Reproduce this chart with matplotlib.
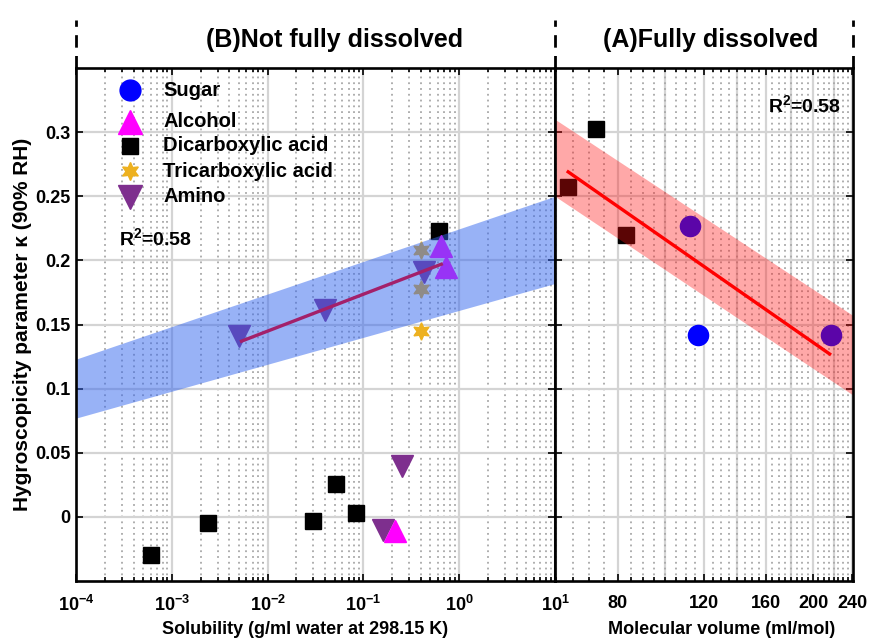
import numpy as np
import matplotlib
matplotlib.use("Agg")
import matplotlib.pyplot as plt
from matplotlib.lines import Line2D
from matplotlib.ticker import FixedLocator, NullFormatter

plt.rcParams['font.family'] = ['Liberation Sans', 'DejaVu Sans']
plt.rcParams['font.weight'] = 'bold'
plt.rcParams['mathtext.fontset'] = 'custom'
plt.rcParams['mathtext.rm'] = 'Liberation Sans'
plt.rcParams['mathtext.bf'] = 'Liberation Sans:bold'
plt.rcParams['mathtext.default'] = 'bf'

# ---------------- data ----------------
# Left panel (B) : solubility (g/ml) vs kappa
dicarb_sol = [6.0e-4, 2.36e-3, 0.0296, 0.0515, 0.083, 0.62]
dicarb_kB = [-0.030, -0.005, -0.003, 0.026, 0.003, 0.223]
tricarb_sol = [0.40, 0.40, 0.40]
tricarb_kB = [0.208, 0.178, 0.145]
alcohol_sol = [0.65, 0.73, 0.216]
alcohol_kB = [0.211, 0.195, -0.011]
amino_sol = [0.0050, 0.040, 0.43, 0.16, 0.25]
amino_kB = [0.141, 0.161, 0.191, -0.010, 0.040]
fitB_x = [0.00534, 0.65]
fitB_y = [0.137, 0.197]
bandB_x = [1e-4, 1e1]
bandB_top = [0.123, 0.25]
bandB_bot = [0.077, 0.182]

# Right panel (A) : molecular volume (ml/mol) vs kappa
sugar_vol = [112.4, 116.4, 217.0]
sugar_kA = [0.227, 0.142, 0.142]
dicarb_vol = [72.1, 63.4, 83.0]
dicarb_kA = [0.3025, 0.257, 0.220]
fitA_x = [63.4, 216.0]
fitA_y = [0.269, 0.127]
bandA_x = [59.6, 241.0]
bandA_top = [0.310, 0.157]
bandA_bot = [0.250, 0.095]

xticksB = [1e-4, 1e-3, 1e-2, 1e-1, 1e0, 1e1]
xticklabelsB = [r'$\mathbf{10^{-4}}$', r'$\mathbf{10^{-3}}$', r'$\mathbf{10^{-2}}$',
                r'$\mathbf{10^{-1}}$', r'$\mathbf{10^{0}}$', r'$\mathbf{10^{1}}$']
xticksA = [80, 120, 160, 200, 240]
yticks = [0, 0.05, 0.1, 0.15, 0.2, 0.25, 0.3]
yticklabels = ['0', '0.05', '0.1', '0.15', '0.2', '0.25', '0.3']

legend_labels = ['Sugar', 'Alcohol', 'Dicarboxylic acid', 'Tricarboxylic acid', 'Amino']

# colours
c_sugar = '#0000FF'
c_alcohol = '#FF00FF'
c_dicarb = '#000000'
c_tricarb = '#EDB120'
c_amino = '#7E2F8E'
hexagram = (6, 1, 0)

W, H = 871, 641
fig = plt.figure(figsize=(W / 100, H / 100), dpi=100)

def fx(px):
    return px / W

def fy(py):
    return 1 - py / H

axB = fig.add_axes([fx(76), fy(581), fx(555) - fx(76), fy(68) - fy(581)])
axA = fig.add_axes([fx(555), fy(581), fx(853) - fx(555), fy(68) - fy(581)])

for ax in (axB, axA):
    ax.set_xscale('log')
    ax.set_ylim(-0.05, 0.35)
    for s in ax.spines.values():
        s.set_linewidth(1.9)
        s.set_zorder(10)
    ax.tick_params(which='both', direction='in', top=True, right=True,
                   width=1.2, labelsize=13)
    ax.tick_params(which='major', length=5)
    ax.tick_params(which='minor', length=3)
    ax.set_yticks(yticks)
    ax.set_axisbelow(True)
    ax.grid(True, axis='y', which='major', color='#D4D4D4', lw=1.6, ls='-')

# ---- left panel ----
axB.set_xlim(1e-4, 1e1)
axB.set_xticks(xticksB)
axB.set_xticklabels(xticklabelsB)
axB.xaxis.set_minor_locator(matplotlib.ticker.LogLocator(base=10, subs=np.arange(2, 10), numticks=20))
axB.xaxis.set_minor_formatter(NullFormatter())
axB.set_yticklabels(yticklabels)
axB.grid(True, axis='x', which='major', color='#D4D4D4', lw=1.6, ls='-')
axB.grid(True, axis='x', which='minor', color='#A8A8A8', lw=1.3, ls=(0, (1, 2.2)))
axB.tick_params(axis='x', pad=10)
axB.tick_params(axis='y', pad=4)

ms_sq = 11
ms_tri = 16
ms_star = 12.5
ms_circ = 14.5
axB.plot(dicarb_sol, dicarb_kB, ls='none', marker='s', ms=ms_sq, color=c_dicarb, zorder=3)
axB.plot(tricarb_sol, tricarb_kB, ls='none', marker=hexagram, ms=ms_star, color=c_tricarb, zorder=3)
axB.plot(amino_sol, amino_kB, ls='none', marker='v', ms=ms_tri, color=c_amino, zorder=3)
axB.plot(alcohol_sol, alcohol_kB, ls='none', marker='^', ms=ms_tri, color=c_alcohol, zorder=3)
axB.fill_between(bandB_x, bandB_bot, bandB_top, color='#3366EE', alpha=0.5, lw=0, zorder=4)
axB.plot(fitB_x, fitB_y, color='#A3206A', lw=2.4, zorder=5)

axB.text(0.090, 0.669, 'R$^2$=0.58', transform=axB.transAxes, fontsize=14,
         fontweight='bold', va='center')

# legend (drawn as markers + text in axes coordinates)
leg_markers = ['o', '^', 's', hexagram, 'v']
leg_colors = [c_sugar, c_alcohol, c_dicarb, c_tricarb, c_amino]
leg_sizes = [15, 17, 11, 13, 17]
leg_y = [0.957, 0.895, 0.848, 0.799, 0.749]
for m, c, s, yy, lab in zip(leg_markers, leg_colors, leg_sizes, leg_y, legend_labels):
    axB.plot([0.113], [yy], transform=axB.transAxes, ls='none', marker=m, ms=s,
             color=c, zorder=20, clip_on=False)
    axB.text(0.182, yy, lab, transform=axB.transAxes, fontsize=14.5,
             fontweight='bold', va='center', ha='left', zorder=20)

axB.set_xlabel('Solubility (g/ml water at 298.15 K)', fontsize=13, fontweight='bold')
axB.xaxis.set_label_coords(0.478, -0.077)
axB.set_ylabel('Hygroscopicity parameter κ (90% RH)', fontsize=15, fontweight='bold')
axB.yaxis.set_label_coords(-0.091, 0.5)

# ---- right panel ----
axA.set_xlim(bandA_x[0], bandA_x[1])
axA.xaxis.set_major_locator(FixedLocator(xticksA))
axA.xaxis.set_major_formatter(matplotlib.ticker.FixedFormatter([str(v) for v in xticksA]))
axA.xaxis.set_minor_locator(FixedLocator(list(range(60, 241, 5))))
axA.xaxis.set_minor_formatter(NullFormatter())
axA.set_yticklabels([])
for v in range(60, 241, 20):
    axA.axvline(v, color='#D4D4D4', lw=1.6, zorder=0.5)
axA.grid(True, axis='x', which='minor', color='#A8A8A8', lw=1.3, ls=(0, (1, 2.2)))
axA.tick_params(axis='x', pad=10)

axA.plot(sugar_vol, sugar_kA, ls='none', marker='o', ms=ms_circ, color=c_sugar, zorder=3)
axA.plot(dicarb_vol, dicarb_kA, ls='none', marker='s', ms=ms_sq, color=c_dicarb, zorder=3)
axA.fill_between(bandA_x, bandA_bot, bandA_top, color='#FF1010', alpha=0.36, lw=0, zorder=4)
axA.plot(fitA_x, fitA_y, color='#FF0000', lw=2.4, zorder=5)
axA.text(0.715, 0.928, 'R$^2$=0.58', transform=axA.transAxes, fontsize=14,
         fontweight='bold', va='center')
axA.set_xlabel('Molecular volume (ml/mol)', fontsize=13, fontweight='bold')
axA.xaxis.set_label_coords(0.56, -0.077)

# ---- titles and dashed separators ----
fig.text(fx(335), fy(40), '(B)Not fully dissolved', fontsize=18, fontweight='bold',
         ha='center', va='center')
fig.text(fx(711), fy(40), '(A)Fully dissolved', fontsize=18, fontweight='bold',
         ha='center', va='center')
for px in (76, 555, 853):
    fig.add_artist(Line2D([fx(px), fx(px)], [fy(68), fy(20)], transform=fig.transFigure,
                          color='k', lw=2.0, ls=(0, (4.5, 3))))

fig.savefig('out.png', dpi=100)
